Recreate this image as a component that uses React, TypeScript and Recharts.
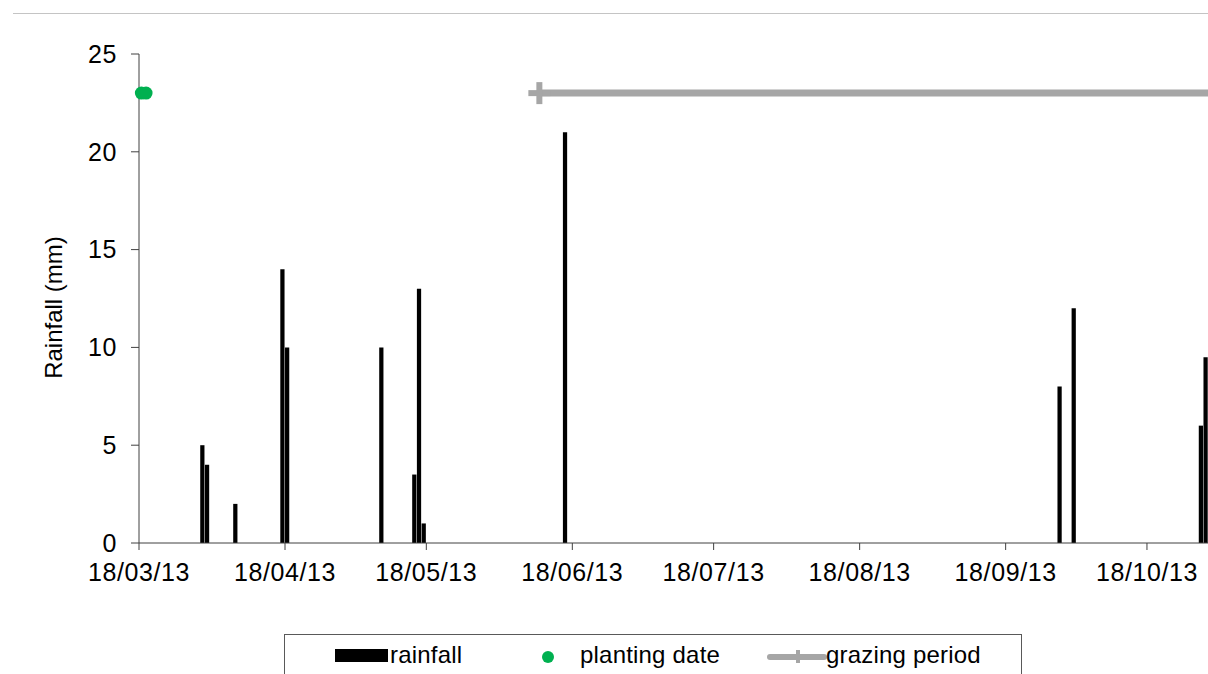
import { ComposedChart, Bar, Line, XAxis, YAxis } from 'recharts';

// rainfall events (dd/mm/yy) and amounts in mm
const rainDates = [
  '31/03/13', '01/04/13', '07/04/13', '17/04/13', '18/04/13', '08/05/13', '15/05/13',
  '16/05/13', '17/05/13', '16/06/13', '29/09/13', '02/10/13', '29/10/13', '30/10/13',
];
const rainMm = [5, 4, 2, 14, 10, 10, 3.5, 13, 1, 21, 8, 12, 6, 9.5];

const plantingDates = ['18/03/13', '19/03/13'];
const plantingLevel = 23;

const grazingDates = ['11/06/13', '11/11/13'];
const grazingLevel = 23;

const tickDates = ['18/03/13', '18/04/13', '18/05/13', '18/06/13', '18/07/13', '18/08/13', '18/09/13', '18/10/13'];
const yTicks = [0, 5, 10, 15, 20, 25];
const axisStart = '18/03/13';
const axisEnd = '11/11/13';

const FONT = '"Liberation Sans", Arial, sans-serif';
const AXIS = '#404040';
const tickStyle = { fontSize: 25, fill: '#000', fontFamily: FONT, letterSpacing: 0.6 };

const toDay = (s: string) => {
  const [d, m, y] = s.split('/').map(Number);
  const [d0, m0, y0] = axisStart.split('/').map(Number);
  return (Date.UTC(2000 + y, m - 1, d) - Date.UTC(2000 + y0, m0 - 1, d0)) / 86400000;
};
// a day's value sits in the middle of that day (date axis, between tick marks)
const mid = (s: string) => toDay(s) + 0.5;

type Row = { x: number; rain?: number; plant?: number; graze?: number };
const rows: Row[] = [
  ...rainDates.map((d, i) => ({ x: mid(d), rain: rainMm[i] })),
  ...plantingDates.map((d) => ({ x: mid(d), plant: plantingLevel })),
  ...grazingDates.map((d) => ({ x: toDay(d), graze: grazingLevel })),
].sort((a, b) => a.x - b.x);

const tickLabel: Record<number, string> = {};
tickDates.forEach((d) => (tickLabel[toDay(d)] = d));

const PlusDot = (props: any) => {
  const { cx, cy } = props;
  if (cx == null || cy == null) return null;
  return (
    <g>
      <line x1={cx - 11} x2={cx + 11} y1={cy} y2={cy} stroke="#a6a6a6" strokeWidth={6} />
      <line x1={cx} x2={cx} y1={cy - 11} y2={cy + 11} stroke="#a6a6a6" strokeWidth={6} />
    </g>
  );
};

const Legend = () => (
  <svg width={1208} height={674} style={{ position: 'absolute', left: 0, top: 0, pointerEvents: 'none' }}>
    <rect x={284.5} y={634.5} width={737} height={60} fill="#fff" stroke="#595959" strokeWidth={1} />
    <rect x={335} y={649} width={53} height={13} fill="#000" />
    <text x={390} y={663} fontSize={24} fontFamily={FONT} fill="#000" letterSpacing={0.2}>rainfall</text>
    <circle cx={548} cy={657} r={6} fill="#00b050" />
    <text x={580} y={663} fontSize={24} fontFamily={FONT} fill="#000" letterSpacing={0.2}>planting date</text>
    <line x1={770} x2={824} y1={657} y2={657} stroke="#a6a6a6" strokeWidth={6} strokeLinecap="round" />
    <line x1={798} x2={798} y1={650} y2={663} stroke="#a6a6a6" strokeWidth={4} />
    <text x={826} y={663} fontSize={24} fontFamily={FONT} fill="#000" letterSpacing={0.2}>grazing period</text>
  </svg>
);

export default function App() {
  return (
    <div
      style={{
        position: 'absolute', left: 0, top: 0, width: 1208, height: 674,
        overflow: 'hidden', background: '#fff', fontFamily: FONT,
      }}
    >
      <div style={{ position: 'absolute', left: 13, right: 0, top: 13, borderTop: '1px solid #c4c4c4' }} />
      <div style={{ position: 'absolute', left: 0, top: 0 }}>
        <ComposedChart width={1260} height={674} data={rows} margin={{ top: 54, right: 0, bottom: 0, left: 0 }}>
          <XAxis
            dataKey="x"
            type="number"
            domain={[0, toDay(axisEnd)]}
            ticks={tickDates.map(toDay)}
            tickFormatter={(v: number) => tickLabel[v] ?? ''}
            interval={0}
            height={131}
            tickSize={7}
            tickMargin={13}
            stroke={AXIS}
            tick={tickStyle}
          />
          <YAxis
            type="number"
            domain={[0, 25]}
            ticks={yTicks}
            width={139}
            tickSize={8}
            tickMargin={14}
            stroke={AXIS}
            tick={tickStyle}
            label={(p: any) => {
              const vb = p.viewBox || { x: 0, y: 54, width: 139, height: 489 };
              const cx = vb.x + 53;
              const cy = vb.y + vb.height / 2 + 9;
              return (
                <text
                  x={cx}
                  y={cy}
                  transform={`rotate(-90, ${cx}, ${cy})`}
                  textAnchor="middle"
                  dominantBaseline="central"
                  fontSize={24}
                  fontFamily={FONT}
                  fill="#000"
                >
                  Rainfall (mm)
                </text>
              );
            }}
          />
          <Bar dataKey="rain" fill="#000" barSize={5} isAnimationActive={false} />
          <Line
            dataKey="graze"
            stroke="#a6a6a6"
            strokeWidth={7}
            connectNulls
            dot={<PlusDot />}
            activeDot={false}
            isAnimationActive={false}
          />
          <Line
            dataKey="plant"
            stroke="none"
            dot={{ r: 6.5, fill: '#00b050', stroke: 'none' }}
            activeDot={false}
            isAnimationActive={false}
          />
        </ComposedChart>
      </div>
      <Legend />
    </div>
  );
}
